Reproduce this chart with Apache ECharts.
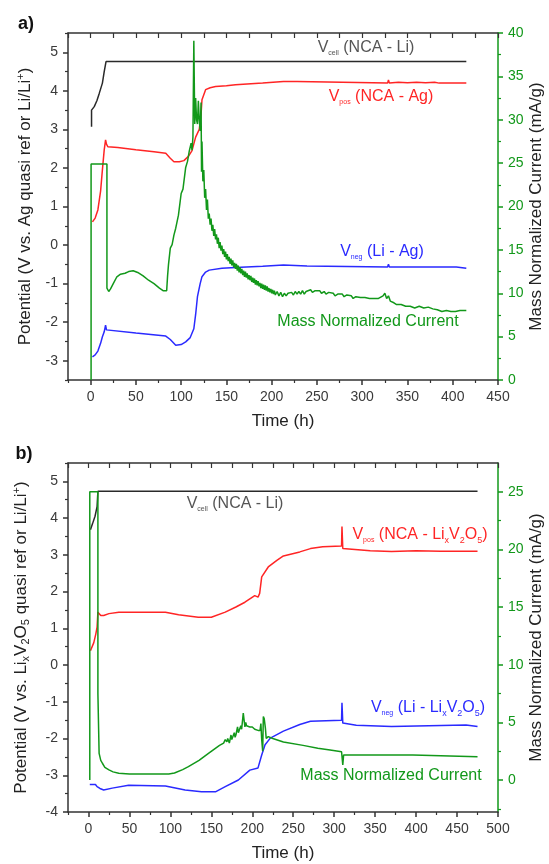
<!DOCTYPE html>
<html>
<head>
<meta charset="utf-8">
<script src="https://cdn.jsdelivr.net/npm/echarts@6/dist/echarts.min.js"></script>
<style>html,body{margin:0;padding:0;background:#fff;}#c{width:549px;height:864px;}</style>
</head>
<body>
<div id="c"></div>
<script>
// ---------- Panel a data: [time (h), value] ----------
const cellA = [[1,3.07],[1,3.5],[4,3.59],[7,3.75],[9.6,3.94],[13,4.2],[15,4.5],[17,4.76],[415,4.76]];
const posA = [[2,0.6],[5,0.7],[8,0.91],[11,1.4],[13,1.95],[15,2.47],[16.5,2.73],[17.5,2.62],[19,2.55],[30,2.53],[50,2.47],[70,2.42],[83,2.38],[88,2.25],[92,2.16],[98,2.16],[103,2.19],[108,2.3],[112,2.45],[116,2.8],[120,3.0],[122,3.4],[123,3.77],[127,4.03],[132,4.08],[138,4.11],[150,4.13],[160,4.16],[190,4.2],[213,4.24],[228,4.24],[229,4.2],[328,4.2],[329,4.28],[330,4.2],[340,4.22],[350,4.21],[360,4.22],[370,4.21],[380,4.22],[385,4.2],[415,4.2]];
const negA = [[2,-2.9],[5,-2.85],[8,-2.75],[11,-2.55],[13,-2.38],[15,-2.25],[16.5,-2.08],[17.5,-2.2],[19,-2.21],[50,-2.28],[83,-2.36],[88,-2.45],[94,-2.6],[100,-2.58],[105,-2.51],[110,-2.4],[114,-2.17],[116,-1.8],[118,-1.34],[121,-1.0],[123,-0.82],[127,-0.7],[131,-0.65],[145,-0.6],[160,-0.58],[190,-0.55],[213,-0.52],[239,-0.545],[240,-0.57],[328,-0.57],[329,-0.5],[330,-0.57],[404,-0.57],[406,-0.6],[415,-0.6]];
const curA = [[0.5,0],[0.5,24.9],[18,24.9],[18,10.6],[20,10.2],[22,10.5],[25,11.1],[29,11.9],[33,12.2],[38,12.3],[42,12.5],[47,12.6],[52,12.4],[58,12.0],[64,11.5],[70,11.1],[76,10.6],[80,10.3],[84,10.3],[85,12.0],[86,13.3],[88,15.2],[90,15.6],[92,16.7],[94,17.5],[97,19.0],[100,21.5],[102,22.0],[105,24.5],[107,25.2],[109,26.4],[111,27.3],[112,26.5],[113,28.0],[114,39.1],[115,29.5],[116,32.5],[117,30.0],[118,29.5],[119,32.2],[120,30.0],[121,28.7],[122,32.0],[122.5,24.0],[123,27.5],
  [124,22.9],[125,24.2],[126,21.0],[127,22.0],[128,19.6],[129,20.8],[130,18.6],[131,19.2],[132,17.9],[133,18.6],[134,17.2],[135,17.9],[136,16.6],[137,17.4],[138,16.2],[139,16.8],[140,15.7],[141,16.4],[142,15.2],[143,15.9],[144,14.9],[145,15.5],[146,14.5],[147,15.1],[148,14.2],[149,14.8],[150,13.9],[151,14.5],[152,13.7],[153,14.2],[154,13.4],[155,14.0],[156,13.2],[157,13.8],[158,13.0],[159,13.5],[160,12.8],[161,13.4],[162,12.6],[163,13.2],[164,12.4],[165,13.0],[166,12.3],[167,12.8],[168,12.1],[169,12.6],[170,11.9],[171,12.5],[172,11.8],[173,12.3],[174,11.6],[175,12.1],[176,11.5],[177,12.0],[178,11.3],[179,11.8],[180,11.2],[181,11.7],[182,11.0],[183,11.5],[184,10.9],[185,11.4],[186,10.8],[187,11.2],[188,10.6],[189,11.1],[190,10.5],[191,11.0],[192,10.4],[193,10.9],[194,10.3],[195,10.8],[196,10.2],[197,10.6],[198,10.1],[199,10.5],[200,10.0],[201,10.4],[202,9.9],[203,10.3],[204,9.8],[206,10.2],[208,9.7],[210,10.1],[212,9.6],[214,10.0],
  [216,9.7],[218,10.0],[220,9.8],[222,10.1],[224,9.8],[226,10.2],[228,9.9],[230,10.2],[232,9.9],[234,10.3],[236,9.9],[238,10.2],[240,10.0],[243,10.4],[245,10.1],[248,10.3],[250,10.1],[253,10.3],[255,10.0],[258,10.2],[260,9.9],[263,10.1],[265,9.9],[268,10.0],[270,9.7],[273,9.9],[275,9.8],[278,9.9],[280,9.6],[283,9.8],[285,9.6],[288,9.7],[290,9.4],[293,9.6],[295,9.4],[298,9.5],[300,9.3],[303,9.5],[305,9.3],[308,9.4],[310,9.2],[313,9.4],[315,9.2],[318,9.4],[320,9.5],[323,9.7],[325,10.0],[327,9.4],[329,9.7],[331,9.1],[335,8.9],[338,8.7],[340,8.6],[343,8.7],[345,8.5],[348,8.5],[350,8.4],[353,8.5],[355,8.4],[358,8.3],[360,8.3],[363,8.5],[365,8.4],[368,8.3],[370,8.3],[373,8.4],[375,8.2],[378,8.2],[380,8.1],[383,8.1],[385,8.0],[388,7.9],[390,7.9],[393,8.0],[395,7.9],[398,7.9],[400,8.0],[403,7.9],[405,7.9],[408,8.0],[410,8.0],[415,8.0]];

// ---------- Panel b data ----------
const cellB = [[2.4,3.68],[5,3.85],[8,4.05],[10.5,4.31],[11.5,4.73],[475,4.73]];
const posB = [[2.4,0.39],[6.5,0.61],[9,0.85],[10.5,1.03],[11.5,1.44],[13,1.44],[15,1.35],[18.6,1.35],[25,1.4],[37,1.44],[94,1.44],[110,1.37],[134,1.3],[150,1.3],[167,1.44],[180,1.58],[191,1.71],[203,1.89],[207,1.85],[209,1.95],[211.5,2.4],[219.5,2.67],[230,2.85],[238,2.97],[258,3.08],[271,3.17],[286,3.22],[309,3.24],[309.5,3.77],[310.5,3.17],[344,3.11],[370,3.09],[400,3.11],[430,3.1],[475,3.1]];
const negB = [[1.6,-3.25],[8.5,-3.25],[10.5,-3.31],[14,-3.36],[18.6,-3.4],[29,-3.35],[49,-3.27],[94,-3.29],[118,-3.4],[138,-3.45],[155,-3.45],[167,-3.31],[183,-3.13],[197,-2.86],[207,-2.8],[209,-2.85],[211.5,-2.45],[215.6,-2.17],[222,-1.99],[238,-1.8],[258,-1.62],[271,-1.53],[309,-1.5],[309.5,-1.03],[310.5,-1.58],[327,-1.64],[370,-1.67],[461,-1.63],[475,-1.67]];
const curB = [[1.6,0],[1.6,25],[11.5,25],[11.5,7.5],[12.5,7.4],[13,2.3],[15,1.7],[17,1.45],[20,1.1],[25,0.87],[30,0.7],[37,0.58],[50,0.52],[98,0.52],[105,0.6],[115,0.9],[122,1.15],[135,1.7],[146.5,2.3],[160,3.0],[165,3.2],[167,3.5],[169,3.3],[170,3.6],[172,3.2],[174,3.9],[175,3.5],[176,3.7],[178,4.1],[179,3.7],[180,3.9],[182,4.6],[183,4.1],[184,4.3],[186,4.7],[187,4.4],[188,4.5],[189,5.8],[190,5.2],[191,4.6],[192,5.0],[193,4.7],[195,4.8],[197,4.6],[200,4.6],[203,4.4],[205,4.5],[207,4.3],[209.5,4.3],[210.5,4.9],[211.5,3.5],[212.7,2.5],[213.5,5.5],[214.6,5.3],[216,4.5],[217,3.6],[219.5,3.76],[225,3.6],[238,3.3],[262,3.0],[280,2.75],[295,2.6],[309,2.45],[310.5,1.3],[311.5,2.17],[396,2.17],[397,2.02],[475,2.02]];

// ---------- Tick labels ----------
const xTicksA = [0,50,100,150,200,250,300,350,400,450];
const xMinorA = [-25,25,75,125,175,225,275,325,375,425];
const yLeftTicksA = [-3,-2,-1,0,1,2,3,4,5];
const yLeftMinorA = [-3.5,-2.5,-1.5,-0.5,0.5,1.5,2.5,3.5,4.5,5.5];
const yRightTicksA = [0,5,10,15,20,25,30,35,40];
const yRightMinorA = [2.5,7.5,12.5,17.5,22.5,27.5,32.5,37.5];
const xTicksB = [0,50,100,150,200,250,300,350,400,450,500];
const xMinorB = [-25,25,75,125,175,225,275,325,375,425,475];
const yLeftTicksB = [-4,-3,-2,-1,0,1,2,3,4,5];
const yLeftMinorB = [-3.5,-2.5,-1.5,-0.5,0.5,1.5,2.5,3.5,4.5,5.5];
const yRightTicksB = [0,5,10,15,20,25];
const yRightMinorB = [-2.5,2.5,7.5,12.5,17.5,22.5];

const FONT = "'Liberation Sans', Arial, sans-serif";
const BLACK = '#2a2a2a', RED = '#ff2525', BLUE = '#2a2aff', GREEN = '#12981a', AX = '#333';

function mainAxis(gi, min, max, pos, ticks, color, extra) {
  const a = {
    type: 'value', gridIndex: gi, min: min, max: max, position: pos,
    axisLine: {show: true, onZero: false, lineStyle: {color: color, width: 1.5}},
    axisTick: {show: true, inside: false, length: 5, customValues: ticks, lineStyle: {color: color, width: 1.5}},
    axisLabel: {show: true, customValues: ticks, margin: 10, fontSize: 14, fontFamily: FONT,
      color: color === AX ? '#3a3a3a' : color},
    splitLine: {show: false}, minorTick: {show: false}, nameMoveOverlap: false
  };
  return Object.assign(a, extra || {});
}
function tickAxis(gi, min, max, pos, ticks, color, inside, len, showLine) {
  return {
    type: 'value', gridIndex: gi, min: min, max: max, position: pos,
    axisLine: {show: !!showLine, onZero: false, lineStyle: {color: color, width: 1.5}},
    axisTick: {show: true, inside: inside, length: len, customValues: ticks, lineStyle: {color: color, width: 1.2}},
    axisLabel: {show: false}, splitLine: {show: false}
  };
}
const nameStyle = {fontSize: 17, color: '#222', fontFamily: FONT};
const nameStyleRich = Object.assign({}, nameStyle, {
  rich: {
    s: {fontSize: 11, color: '#222', fontFamily: FONT, padding: [9, 0, 0, 0]},
    p: {fontSize: 11, color: '#222', fontFamily: FONT, padding: [0, 0, 10, 0]}
  }
});

const xAxes = [
  mainAxis(0, -25, 450, 'bottom', xTicksA, AX, {name: 'Time (h)', nameLocation: 'middle', nameGap: 33, nameTextStyle: nameStyle}),
  tickAxis(0, -25, 450, 'bottom', xMinorA, AX, false, 3, false),
  tickAxis(0, -25, 450, 'top', xTicksA.concat(xMinorA), AX, true, 5, true),
  mainAxis(1, -25, 500, 'bottom', xTicksB, AX, {name: 'Time (h)', nameLocation: 'middle', nameGap: 33, nameTextStyle: nameStyle}),
  tickAxis(1, -25, 500, 'bottom', xMinorB, AX, false, 3, false),
  tickAxis(1, -25, 500, 'top', xTicksB.concat(xMinorB), AX, true, 5, true)
];
const yAxes = [
  mainAxis(0, -3.5, 5.5, 'left', yLeftTicksA, AX, {name: 'Potential (V vs. Ag quasi ref or Li/Li{p|+})', nameLocation: 'middle', nameGap: 32, nameTextStyle: nameStyleRich}),
  tickAxis(0, -3.5, 5.5, 'left', yLeftMinorA, AX, false, 3, false),
  mainAxis(0, 0, 40, 'right', yRightTicksA, GREEN, {name: 'Mass Normalized Current (mA/g)', nameLocation: 'middle', nameGap: 30, nameTextStyle: nameStyle}),
  tickAxis(0, 0, 40, 'right', yRightMinorA, GREEN, false, 3, false),
  mainAxis(1, -4, 5.5, 'left', yLeftTicksB, AX, {name: 'Potential (V vs. Li{s|x}V{s|2}O{s|5} quasi ref or Li/Li{p|+})', nameLocation: 'middle', nameGap: 36, nameTextStyle: nameStyleRich}),
  tickAxis(1, -4, 5.5, 'left', yLeftMinorB, AX, false, 3, false),
  mainAxis(1, -2.78, 27.5, 'right', yRightTicksB, GREEN, {name: 'Mass Normalized Current (mA/g)', nameLocation: 'middle', nameGap: 30, nameTextStyle: nameStyle}),
  tickAxis(1, -2.78, 27.5, 'right', yRightMinorB, GREEN, false, 3, false)
];

function line(data, color, xi, yi, z) {
  return {type: 'line', data: data, xAxisIndex: xi, yAxisIndex: yi, showSymbol: false, symbol: 'none',
    lineStyle: {color: color, width: 1.5}, itemStyle: {color: color}, z: z || 2, silent: true};
}

function ann(x, y, parts, color) {
  return {type: 'text', x: x, y: y, z: 100, style: {
    text: parts, fill: color, fontSize: 16, fontFamily: FONT, align: 'center', verticalAlign: 'middle',
    rich: {
      n: {fontSize: 16, fill: color, fontFamily: FONT},
      c: {fontSize: 7, fill: color, fontFamily: FONT, padding: [11, 0, 0, 0]},
      s: {fontSize: 9, fill: color, fontFamily: FONT, padding: [11, 0, 0, 0]}
    }
  }};
}

const chart = echarts.init(document.getElementById('c'), null, {renderer: 'canvas'});
chart.setOption({
  animation: false,
  backgroundColor: '#fff',
  grid: [
    {left: 68, right: 51, top: 33, height: 347, outerBoundsMode: 'none', containLabel: false},
    {left: 68, right: 51, top: 463, height: 349, outerBoundsMode: 'none', containLabel: false}
  ],
  xAxis: xAxes,
  yAxis: yAxes,
  series: [
    line(cellA, BLACK, 0, 0, 2),
    line(posA, RED, 0, 0, 3),
    line(negA, BLUE, 0, 0, 3),
    line(curA, GREEN, 0, 2, 4),
    line(cellB, BLACK, 3, 4, 2),
    line(posB, RED, 3, 4, 3),
    line(negB, BLUE, 3, 4, 3),
    line(curB, GREEN, 3, 6, 4)
  ],
  graphic: [
    {type: 'text', x: 26, y: 24, style: {text: 'a)', fontSize: 18, fontWeight: 'bold', fontFamily: FONT, fill: '#111', align: 'center', verticalAlign: 'middle'}},
    {type: 'text', x: 24, y: 454, style: {text: 'b)', fontSize: 18, fontWeight: 'bold', fontFamily: FONT, fill: '#111', align: 'center', verticalAlign: 'middle'}},
    ann(366, 48, '{n|V}{c|cell}{n| (NCA - Li)}', '#555'),
    ann(381, 97, '{n|V}{c|pos}{n| (NCA - Ag)}', RED),
    ann(382, 252, '{n|V}{c|neg}{n| (Li - Ag)}', BLUE),
    ann(368, 322, '{n|Mass Normalized Current}', GREEN),
    ann(235, 504, '{n|V}{c|cell}{n| (NCA - Li)}', '#555'),
    ann(420, 535, '{n|V}{c|pos}{n| (NCA - Li}{s|x}{n|V}{s|2}{n|O}{s|5}{n|)}', RED),
    ann(428, 708, '{n|V}{c|neg}{n| (Li - Li}{s|x}{n|V}{s|2}{n|O}{s|5}{n|)}', BLUE),
    ann(391, 776, '{n|Mass Normalized Current}', GREEN)
  ]
});
</script>
</body>
</html>
